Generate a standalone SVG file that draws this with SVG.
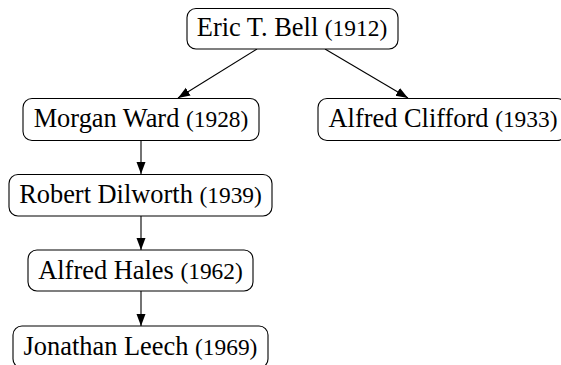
<svg xmlns="http://www.w3.org/2000/svg" width="561" height="365" viewBox="0 0 561 365">
<defs>
<style>
.box{fill:#fff;stroke:#000;stroke-width:1.1}
.t{font-family:"Liberation Serif","Times New Roman",serif;font-size:26.4px;fill:#000;text-anchor:middle}
.y{font-size:23.4px}
.e{stroke:#000;stroke-width:1.1;fill:none}
</style>
<marker id="ah" markerUnits="userSpaceOnUse" markerWidth="13" markerHeight="10" refX="12" refY="4.5" orient="auto">
<path d="M0,0 L12,4.5 L0,9 Z" fill="#000"/>
</marker>
</defs>
<g id="connectors">
<line class="e" x1="257" y1="49" x2="178" y2="98" marker-end="url(#ah)"/>
<line class="e" x1="325" y1="49" x2="408" y2="98" marker-end="url(#ah)"/>
<line class="e" x1="141" y1="141" x2="141" y2="174" marker-end="url(#ah)"/>
<line class="e" x1="141" y1="216" x2="141" y2="250" marker-end="url(#ah)"/>
<line class="e" x1="141" y1="291" x2="141" y2="326" marker-end="url(#ah)"/>
</g>
<g id="bell">
<rect class="box" x="187" y="8.5" width="211" height="40.5" rx="9"/>
<text class="t" x="292" y="36">Eric T. Bell <tspan class="y">(1912)</tspan></text>
</g>
<g id="ward">
<rect class="box" x="23" y="98.5" width="236" height="42" rx="9"/>
<text class="t" x="141" y="127">Morgan Ward <tspan class="y">(1928)</tspan></text>
</g>
<g id="clifford">
<rect class="box" x="318" y="98.5" width="248" height="42" rx="9"/>
<text class="t" x="443" y="127">Alfred Clifford <tspan class="y">(1933)</tspan></text>
</g>
<g id="dilworth">
<rect class="box" x="9" y="174.5" width="263" height="41.5" rx="9"/>
<text class="t" x="140.5" y="203">Robert Dilworth <tspan class="y">(1939)</tspan></text>
</g>
<g id="hales">
<rect class="box" x="28" y="250" width="225" height="41" rx="9"/>
<text class="t" x="140.5" y="278.5">Alfred Hales <tspan class="y">(1962)</tspan></text>
</g>
<g id="leech">
<rect class="box" x="13" y="326" width="255" height="42" rx="9"/>
<text class="t" x="140.5" y="354.5">Jonathan Leech <tspan class="y">(1969)</tspan></text>
</g>
</svg>
